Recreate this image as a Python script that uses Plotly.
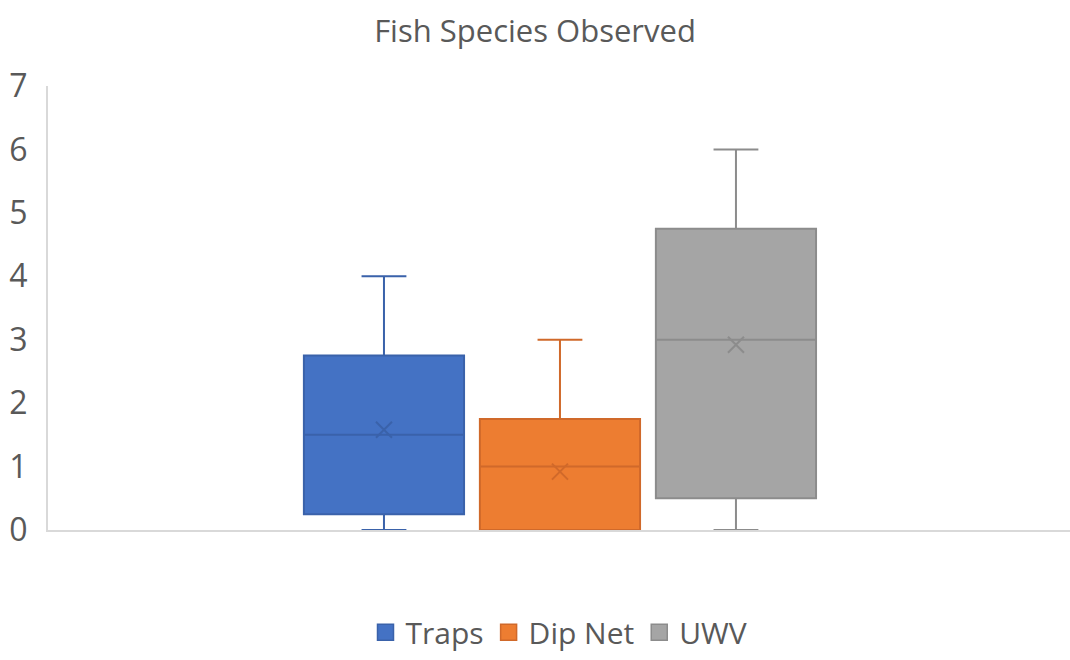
import plotly.graph_objects as go

# Summary statistics per sampling method
methods = ["Traps", "Dip Net", "UWV"]
positions = [0, 1, 2]
q1 = [0.25, 0.0, 0.5]
median = [1.5, 1.0, 3.0]
q3 = [2.75, 1.75, 4.75]
lower = [0.0, 0.0, 0.0]
upper = [4.0, 3.0, 6.0]
mean = [1.58, 0.92, 2.92]

fill_colors = ["#4472C4", "#ED7D31", "#A5A5A5"]
line_colors = ["#3A62AA", "#D0692A", "#8C8C8C"]

FONT = "Open Sans"

fig = go.Figure()
for i, name in enumerate(methods):
    fig.add_trace(go.Box(
        name=name,
        x=[positions[i]],
        q1=[q1[i]], median=[median[i]], q3=[q3[i]],
        lowerfence=[lower[i]], upperfence=[upper[i]],
        fillcolor=fill_colors[i],
        line=dict(color=line_colors[i], width=2),
        width=0.91,
        whiskerwidth=0.28,
        boxpoints=False,
        showlegend=False,
        hoverinfo="skip",
    ))
    # mean marker drawn as an "x"
    fig.add_trace(go.Scatter(
        x=[positions[i]], y=[mean[i]],
        mode="markers",
        marker=dict(symbol="x-thin-open", size=16, color=line_colors[i],
                    line=dict(color=line_colors[i], width=2)),
        showlegend=False, hoverinfo="skip",
    ))

# square legend keys
for i, name in enumerate(methods):
    fig.add_trace(go.Scatter(
        x=[None], y=[None], mode="markers", name=name,
        marker=dict(symbol="square", size=19, color=fill_colors[i],
                    line=dict(color=line_colors[i], width=1.5)),
    ))

fig.update_layout(
    width=1070, height=660,
    paper_bgcolor="white", plot_bgcolor="white",
    margin=dict(l=48, r=0, t=86, b=130),
    title=dict(text="Fish Species Observed", x=0.5, xanchor="center",
               y=0.953, yanchor="middle",
               font=dict(family=FONT, size=31, color="#595959")),
    showlegend=True,
    legend=dict(orientation="h", x=0.5, xanchor="center", y=-0.172, yanchor="top",
                font=dict(family=FONT, size=30, color="#595959"),
                itemwidth=30, tracegroupgap=0),
    xaxis=dict(range=[-1.909, 3.898], showticklabels=False, ticks="",
               showgrid=False, zeroline=False, showline=True,
               linecolor="#D9D9D9", linewidth=2),
    yaxis=dict(range=[0, 7], dtick=1, showgrid=False, zeroline=False,
               showline=True, linecolor="#D9D9D9", linewidth=2,
               ticks="", ticklabelstandoff=12,
               tickfont=dict(family=FONT, size=32, color="#595959")),
)

fig.write_html("out.html")
